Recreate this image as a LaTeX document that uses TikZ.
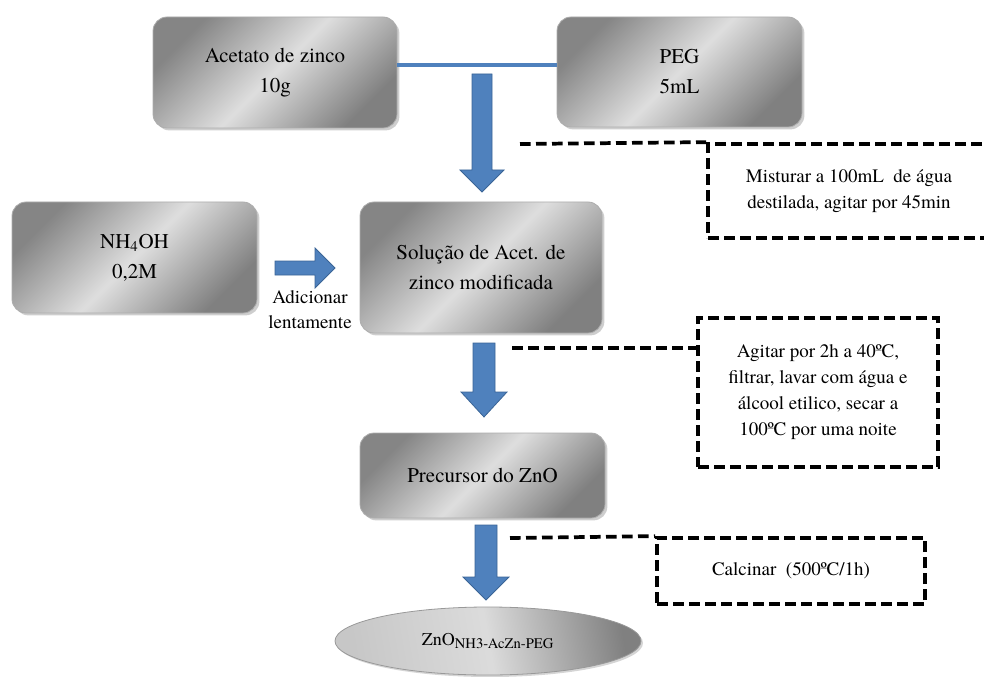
\documentclass[tikz,border=0pt]{standalone}
\usepackage{fontspec}
\setmainfont{TeX Gyre Termes}
\usetikzlibrary{shadows,shapes.geometric,calc}

\definecolor{flowblue}{HTML}{4F81BD}
\definecolor{flowblueedge}{HTML}{3A6496}

\begin{document}
\begin{tikzpicture}[x=0.75pt,y=-0.75pt,
  stage/.style={draw=black!32, line width=0.6pt, rounded corners=10.5pt,
    left color=black!48, right color=black!50, middle color=black!13,
    shading angle=45,
    drop shadow={shadow xshift=1.8pt, shadow yshift=-1.8pt, opacity=0.35, fill=black!55},
    align=center, inner sep=0pt,
    font=\fontsize{15.75}{22.5}\selectfont},
  product/.style={ellipse, draw=black!40, line width=0.6pt,
    left color=black!22, right color=black!50, middle color=black!14,
    shading angle=100,
    drop shadow={shadow xshift=1.5pt, shadow yshift=-1.5pt, opacity=0.3, fill=black!55},
    inner sep=0pt, font=\fontsize{13.5}{16}\selectfont},
  note/.style={draw=black, line width=2.8pt, dash pattern=on 8pt off 4pt,
    align=center, inner sep=0pt, font=\fontsize{14.25}{19.5}\selectfont},
  noteline/.style={draw=black, line width=2.8pt, dash pattern=on 8pt off 4pt},
  blockarrow/.style={fill=flowblue, draw=flowblueedge, line width=0.6pt, line join=miter},
  joinline/.style={draw=flowblue, line width=2.3pt},
  sidetext/.style={align=center, inner sep=0pt, font=\fontsize{14.25}{18.75}\selectfont}
]
\useasboundingbox (0,0) rectangle (984,677);

% reagent and intermediate boxes
\node[stage, minimum width=183pt, minimum height=83.25pt] (acet) at (275,72.5)
  {Acetato de zinco\\10g};
\node[stage, minimum width=183.75pt, minimum height=82.5pt] (peg) at (679.5,72)
  {PEG\\5mL};
\node[stage, minimum width=183.75pt, minimum height=83.25pt] (nh4) at (134.5,257.5)
  {NH\textsubscript{4}OH\\0,2M};
\node[stage, minimum width=181.5pt, minimum height=98.25pt] (sol) at (481,267.5)
  {Solução de Acet. de\\zinco modificada};
\node[stage, minimum width=183.75pt, minimum height=63.75pt] (prec) at (482.5,475.5)
  {Precursor do ZnO};
\node[product, minimum width=229.5pt, minimum height=51pt] (zno) at (488,641)
  {ZnO\textsubscript{\fontsize{11}{12}\selectfont NH3-AcZn-PEG}};

% line joining the two reagents
\draw[joinline] ($(acet.east)+(0,-7.5)$) -- ($(peg.west)+(0,-7)$);

% block arrows
\draw[blockarrow] (472,74) -- (492,74) -- (492,170) -- (504,170) -- (482,192)
  -- (460,170) -- (472,170) -- cycle;
\draw[blockarrow] (473,343) -- (495,343) -- (495,392) -- (507,392) -- (484,417)
  -- (461,392) -- (473,392) -- cycle;
\draw[blockarrow] (475,525) -- (497,525) -- (497,577) -- (509,577) -- (486,600)
  -- (463,577) -- (475,577) -- cycle;
\draw[blockarrow] (275,261) -- (315,261) -- (315,248) -- (335,268) -- (315,288)
  -- (315,275) -- (275,275) -- cycle;

\node[sidetext] (addlbl) at (310,309.5) {Adicionar\\lentamente};

% process notes
\node[note, minimum width=211.5pt, minimum height=70.5pt] (note1) at (849,191)
  {Misturar a 100mL~ de água\\destilada, agitar por 45min};
\node[note, minimum width=180pt, minimum height=111.75pt] (note2) at (818,392.5)
  {Agitar por 2h a 40ºC,\\filtrar, lavar com água e\\álcool etilico, secar a\\100ºC por uma noite};
\node[note, minimum width=201pt, minimum height=49.5pt] (note3) at (791,571)
  {Calcinar~ (500ºC/1h)};

\coordinate (d1) at (520,144);
\coordinate (d2) at (512,348);
\coordinate (d3) at (510,538);
\draw[noteline] (d1) -- (note1.north west);
\draw[noteline] (d2) -- (note2.west |- d2);
\draw[noteline] (d3) -- (note3.north west);
\end{tikzpicture}
\end{document}
